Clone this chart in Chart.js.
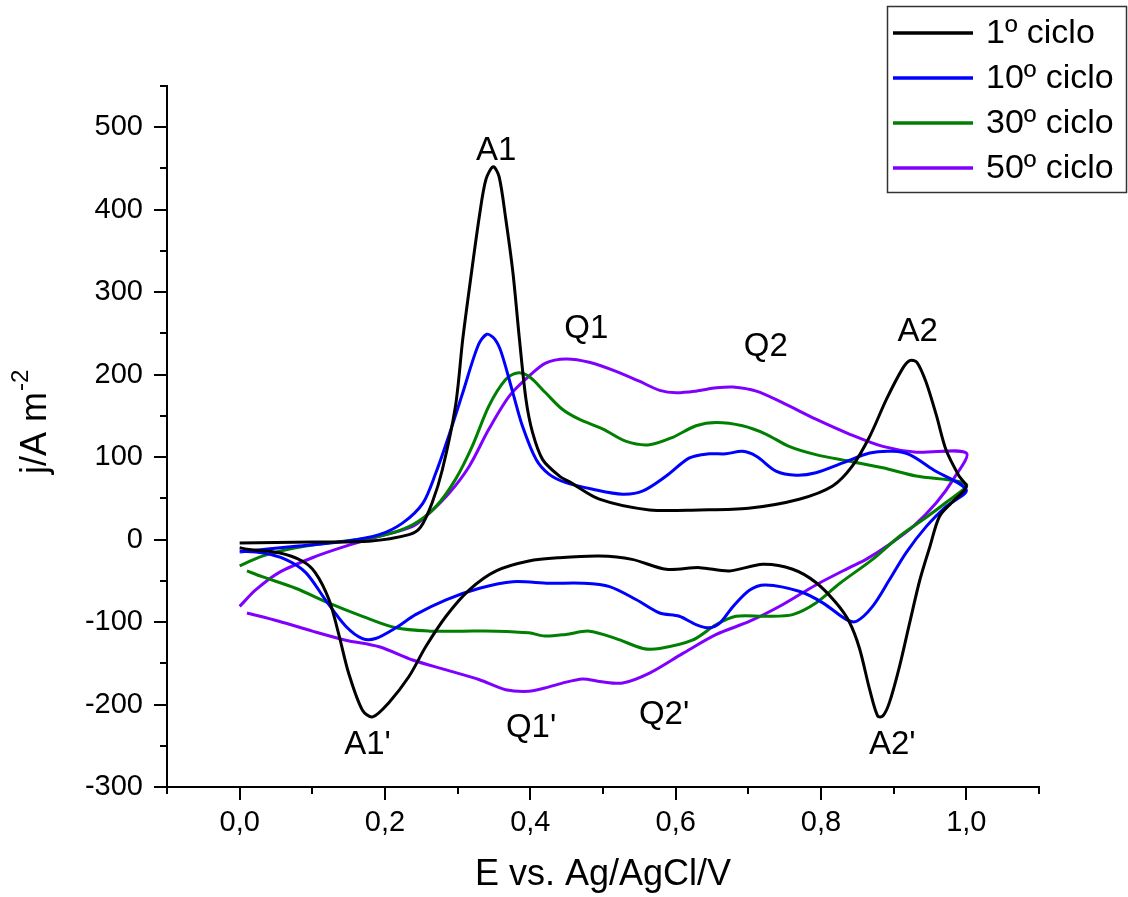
<!DOCTYPE html>
<html>
<head>
<meta charset="utf-8">
<script src="https://cdn.jsdelivr.net/npm/chart.js@4.4.1/dist/chart.umd.min.js"></script>
<style>
  html, body { margin: 0; padding: 0; background: #fff; }
</style>
</head>
<body>
<canvas id="cvChart" width="1128" height="897"></canvas>
<script>
// series names and colours
const seriesNames = ['1º ciclo', '10º ciclo', '30º ciclo', '50º ciclo'];
const seriesColors = ['#000000', '#0000ff', '#007f00', '#8000ff'];

// 1º ciclo (anodic sweep then cathodic sweep)
const cycle1E = [0.0, 0.1, 0.178, 0.233, 0.249, 0.265, 0.279, 0.297, 0.307, 0.316, 0.33, 0.339, 0.349, 0.357, 0.366, 0.376, 0.385, 0.394, 0.403, 0.417, 0.44, 0.454, 0.495, 0.564, 0.633, 0.7, 0.77, 0.816, 0.843, 0.867, 0.89, 0.912, 0.922, 0.932, 0.945, 0.959, 0.972, 0.99, 1.0,
  0.98, 0.963, 0.95, 0.936, 0.922, 0.908, 0.894, 0.885, 0.878, 0.867, 0.853, 0.839, 0.821, 0.793, 0.761, 0.72, 0.674, 0.633, 0.587, 0.54, 0.495, 0.44, 0.398, 0.353, 0.316, 0.284, 0.256, 0.233, 0.205, 0.183, 0.169, 0.15, 0.137, 0.123, 0.104, 0.086, 0.054, 0.013, 0.0];
const cycle1J = [-4, -3, -2, 6, 15, 45, 85, 162, 243, 304, 393, 437, 452, 440, 390, 324, 243, 170, 130, 97, 77, 70, 49, 36, 36, 38, 49, 65, 89, 125, 170, 207, 217, 215, 190, 150, 109, 77, 64,
  45, 28, -8, -49, -101, -154, -198, -214, -214, -182, -132, -100, -77, -52, -36, -30, -38, -34, -36, -24, -20, -22, -26, -38, -61, -93, -130, -166, -198, -215, -207, -162, -117, -73, -40, -26, -16, -12, -10];

// 10º ciclo
const cycle10E = [0.0, 0.077, 0.146, 0.192, 0.224, 0.252, 0.27, 0.289, 0.307, 0.328, 0.34, 0.351, 0.36, 0.376, 0.389, 0.408, 0.426, 0.449, 0.486, 0.527, 0.555, 0.587, 0.619, 0.646, 0.669, 0.692, 0.711, 0.738, 0.766, 0.793, 0.83, 0.867, 0.899, 0.922, 0.954, 1.0,
  0.972, 0.945, 0.917, 0.894, 0.871, 0.849, 0.835, 0.803, 0.771, 0.724, 0.702, 0.679, 0.661, 0.646, 0.628, 0.605, 0.578, 0.546, 0.509, 0.472, 0.426, 0.376, 0.33, 0.284, 0.242, 0.215, 0.187, 0.169, 0.146, 0.118, 0.091, 0.063, 0.031, 0.0];
const cycle10J = [-15, -8, -2, 6, 20, 44, 81, 129, 178, 235, 249, 243, 227, 178, 138, 97, 79, 69, 61, 55, 59, 77, 99, 104, 104, 107, 101, 83, 78, 81, 93, 105, 107, 103, 85, 60,
  40, 16, -16, -49, -81, -99, -97, -77, -63, -55, -61, -81, -101, -107, -103, -93, -89, -73, -57, -53, -53, -51, -59, -73, -91, -107, -120, -120, -105, -73, -40, -24, -16, -14];

// 30º ciclo
const cycle30E = [0.0, 0.031, 0.077, 0.123, 0.192, 0.238, 0.27, 0.297, 0.32, 0.343, 0.366, 0.382, 0.398, 0.421, 0.444, 0.467, 0.5, 0.532, 0.564, 0.596, 0.628, 0.656, 0.692, 0.724, 0.756, 0.793, 0.839, 0.885, 0.931, 1.0,
  0.972, 0.94, 0.908, 0.871, 0.826, 0.793, 0.761, 0.724, 0.683, 0.656, 0.623, 0.578, 0.555, 0.518, 0.481, 0.449, 0.42, 0.398, 0.353, 0.307, 0.261, 0.215, 0.169, 0.123, 0.077, 0.031, 0.01];
const cycle30J = [-32, -20, -10, -4, 4, 18, 40, 73, 113, 162, 194, 202, 198, 178, 158, 146, 134, 119, 115, 124, 138, 142, 138, 128, 113, 103, 95, 87, 77, 67,
  45, 24, 4, -24, -53, -77, -91, -93, -93, -103, -122, -132, -132, -120, -111, -115, -117, -113, -111, -111, -111, -107, -93, -77, -59, -45, -38];

// 50º ciclo
const cycle50E = [0.0, 0.022, 0.054, 0.1, 0.146, 0.192, 0.238, 0.261, 0.289, 0.316, 0.343, 0.371, 0.398, 0.421, 0.449, 0.481, 0.518, 0.55, 0.578, 0.601, 0.628, 0.656, 0.679, 0.711, 0.747, 0.793, 0.839, 0.885, 0.931, 1.0,
  0.982, 0.959, 0.927, 0.894, 0.862, 0.839, 0.793, 0.747, 0.702, 0.656, 0.61, 0.564, 0.527, 0.495, 0.472, 0.444, 0.42, 0.398, 0.366, 0.33, 0.284, 0.238, 0.192, 0.146, 0.1, 0.054, 0.01];
const cycle50J = [-81, -61, -40, -22, -8, 4, 16, 32, 57, 89, 134, 174, 198, 214, 219, 215, 204, 192, 181, 178, 180, 184, 185, 180, 166, 146, 128, 113, 106, 105,
  73, 45, 16, -6, -24, -34, -55, -79, -99, -115, -138, -162, -174, -172, -169, -174, -180, -184, -182, -170, -158, -146, -130, -122, -111, -99, -89];

// axis ticks
const xTickValues = [0, 0.2, 0.4, 0.6, 0.8, 1.0];
const xMinorValues = [-0.1, 0.1, 0.3, 0.5, 0.7, 0.9, 1.1];
const yTickValues = [-300, -200, -100, 0, 100, 200, 300, 400, 500];
const yMinorValues = [-250, -150, -50, 50, 150, 250, 350, 450, 550];

// peak annotations
const peakLabels = ['A1', 'Q1', 'Q2', 'A2', "A1'", "Q1'", "Q2'", "A2'"];
const peakE = [0.353, 0.477, 0.724, 0.933, 0.176, 0.401, 0.584, 0.898];
const peakJ = [471, 255, 234, 252, -249, -228, -213, -249];

const FONT = "'Liberation Sans', Arial, sans-serif";

function toPoints(xs, ys) {
  return xs.map((x, i) => ({ x: x, y: ys[i] }));
}

const allE = [cycle1E, cycle10E, cycle30E, cycle50E];
const allJ = [cycle1J, cycle10J, cycle30J, cycle50J];

const datasets = seriesNames.map((name, i) => ({
  label: name,
  data: toPoints(allE[i], allJ[i]),
  borderColor: seriesColors[i],
  backgroundColor: seriesColors[i],
  borderWidth: 3,
  pointRadius: 0,
  showLine: true,
  tension: 0.3,
  fill: false
}));

// ticks, y title, peak labels and legend box
const extrasPlugin = {
  id: 'extras',
  afterDraw(chart) {
    const ctx = chart.ctx;
    const xs = chart.scales.x, ys = chart.scales.y;
    const area = chart.chartArea;
    ctx.save();
    ctx.strokeStyle = '#000';
    ctx.lineWidth = 2;
    ctx.beginPath();
    xTickValues.forEach(v => { const p = Math.round(xs.getPixelForValue(v)); ctx.moveTo(p, area.bottom); ctx.lineTo(p, area.bottom + 13); });
    xMinorValues.forEach(v => { const p = Math.round(xs.getPixelForValue(v)); ctx.moveTo(p, area.bottom); ctx.lineTo(p, area.bottom + 7); });
    yTickValues.forEach(v => { const p = Math.round(ys.getPixelForValue(v)); ctx.moveTo(area.left, p); ctx.lineTo(area.left - 13, p); });
    yMinorValues.forEach(v => { const p = Math.round(ys.getPixelForValue(v)); ctx.moveTo(area.left, p); ctx.lineTo(area.left - 7, p); });
    ctx.stroke();

    // y axis title with superscript
    ctx.fillStyle = '#000';
    ctx.translate(46, 474);
    ctx.rotate(-Math.PI / 2);
    ctx.font = '36px ' + FONT;
    ctx.textAlign = 'left';
    ctx.textBaseline = 'alphabetic';
    ctx.fillText('j/A m', 0, 0);
    const w = ctx.measureText('j/A m').width;
    ctx.font = '24px ' + FONT;
    ctx.fillText('-2', w + 1, -18);
    ctx.restore();

    // peak labels
    ctx.save();
    ctx.fillStyle = '#000';
    ctx.font = '33px ' + FONT;
    ctx.textAlign = 'center';
    ctx.textBaseline = 'middle';
    peakLabels.forEach((t, i) => {
      ctx.fillText(t, xs.getPixelForValue(peakE[i]), ys.getPixelForValue(peakJ[i]));
    });
    ctx.restore();

    // legend
    ctx.save();
    ctx.strokeStyle = '#333';
    ctx.lineWidth = 1.5;
    ctx.strokeRect(887.5, 6.5, 239, 186);
    ctx.font = '34px ' + FONT;
    ctx.textAlign = 'left';
    ctx.textBaseline = 'middle';
    chart.data.datasets.forEach((ds, i) => {
      const yy = 33 + i * 45;
      ctx.strokeStyle = ds.borderColor;
      ctx.lineWidth = 3.5;
      ctx.beginPath();
      ctx.moveTo(893, yy);
      ctx.lineTo(973, yy);
      ctx.stroke();
      ctx.fillStyle = '#000';
      ctx.fillText(ds.label, 986, yy + 1);
    });
    ctx.restore();
  }
};

Chart.defaults.font.family = FONT;
Chart.defaults.color = '#000';

new Chart(document.getElementById('cvChart').getContext('2d'), {
  type: 'scatter',
  data: { datasets: datasets },
  options: {
    responsive: false,
    animation: false,
    layout: { padding: { top: 86, right: 89, left: 0, bottom: 0 } },
    plugins: { legend: { display: false }, tooltip: { enabled: false } },
    scales: {
      x: {
        type: 'linear',
        min: -0.1,
        max: 1.1,
        afterBuildTicks: s => { s.ticks = xTickValues.map(v => ({ value: v })); },
        afterFit: s => { s.height = 110; },
        grid: { display: false, drawTicks: false },
        border: { display: true, color: '#000', width: 2 },
        ticks: {
          padding: 19,
          font: { size: 29 },
          color: '#000',
          maxRotation: 0,
          callback: v => v.toFixed(1).replace('.', ',')
        },
        title: { display: true, text: 'E vs. Ag/AgCl/V', font: { size: 36 }, color: '#000', padding: { top: 0, bottom: 0 } }
      },
      y: {
        type: 'linear',
        min: -300,
        max: 550,
        afterBuildTicks: s => { s.ticks = yTickValues.map(v => ({ value: v })); },
        afterFit: s => { s.width = 167; },
        grid: { display: false, drawTicks: false },
        border: { display: true, color: '#000', width: 2 },
        ticks: {
          padding: 24,
          font: { size: 29 },
          color: '#000',
          callback: v => String(v)
        }
      }
    }
  },
  plugins: [extrasPlugin]
});
</script>
</body>
</html>
